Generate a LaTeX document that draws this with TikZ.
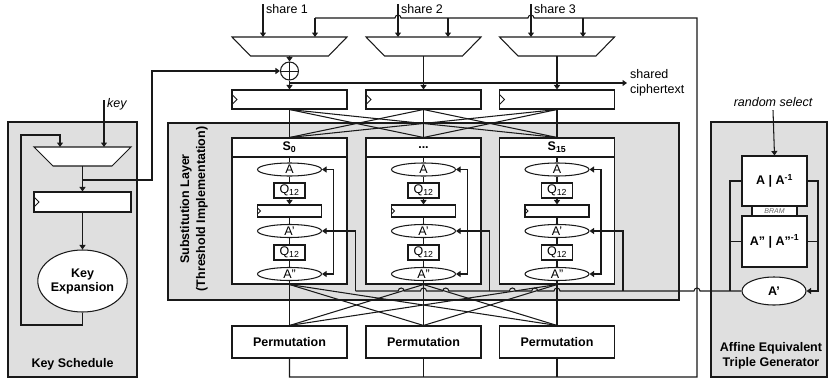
\documentclass[tikz,border=0pt]{standalone}
\usepackage{fontspec}
\setmainfont{Liberation Sans}
\usetikzlibrary{arrows.meta,shapes.geometric,calc}
\newcommand{\myq}{{\char39}}
\newcommand{\mydq}{{\char34}}
\definecolor{panel}{RGB}{223,223,223}
\definecolor{ink}{RGB}{25,25,25}
\begin{document}
\begin{tikzpicture}[x=1pt,y=-1pt,
  every node/.style={font=\fontsize{12.5}{14}\selectfont},
  ln/.style={draw=ink,line width=1.05pt},
  arr/.style={ln,-{Triangle[length=4.5pt,width=6pt]}},
  arrboth/.style={ln,{Triangle[length=4.5pt,width=6pt]}-{Triangle[length=4.5pt,width=6pt]}},
  wbox/.style={draw=ink,line width=1.05pt,fill=white,rectangle,inner sep=0pt},
  regbox/.style={wbox,path picture={\draw[ink,line width=0.9pt] ([yshift=5pt]path picture bounding box.west) -- ++(5pt,-5pt) -- ++(-5pt,-5pt);}},
  sreg/.style={wbox,path picture={\draw[ink,line width=0.8pt] ([yshift=3pt]path picture bounding box.west) -- ++(3pt,-3pt) -- ++(-3pt,-3pt);}},
  ell/.style={ellipse,draw=ink,line width=1.05pt,fill=white,inner sep=0pt},
  bf/.style={font=\fontsize{12.5}{14}\selectfont\bfseries},
  itl/.style={font=\fontsize{12.5}{14}\selectfont\itshape},
  panelbox/.style={draw=ink,line width=1.05pt,fill=panel,rectangle,inner sep=0pt}
]
\useasboundingbox (0,0) rectangle (830,380);

% panels
\node[panelbox,minimum width=129,minimum height=255] (ks) at (72.5,249.5) {};
\node[panelbox,minimum width=511,minimum height=177] (sl) at (423.5,211.5) {};
\node[panelbox,minimum width=116,minimum height=255] (ag) at (769,249.5) {};

\node[bf] (kslbl) at (72.5,364) {Key Schedule};
\node[bf,align=center,font=\fontsize{12.5}{15}\selectfont\bfseries] (aglbl) at (771,356) {Affine Equivalent\\Triple Generator};
\node[bf,align=center,rotate=90,font=\fontsize{12.5}{16}\selectfont\bfseries] (sllbl) at (194,209) {Substitution Layer\\(Threshold Implementation)};

% top labels
\node[anchor=west,inner sep=0pt] (sh1) at (266,9) {share 1};
\node[anchor=west,inner sep=0pt] (sh2) at (401,9) {share 2};
\node[anchor=west,inner sep=0pt] (sh3) at (534,9) {share 3};
\node[anchor=west,align=left,inner sep=0pt,font=\fontsize{12.5}{15}\selectfont] (ctlbl) at (630,83) {shared\\ciphertext};
\node[itl,anchor=west,inner sep=0pt] (keylbl) at (107,104) {key};
\node[itl] (rslbl) at (773,102) {random select};

% top muxes
\foreach \c/\n in {289.5/1,423.5/2,557/3}{
  \draw[ln,fill=white] (\c-57.5,37) -- (\c+57.5,37) -- (\c+39,56) -- (\c-39,56) -- cycle;
  \coordinate (mt\n) at (\c,37);
  \coordinate (mb\n) at (\c,56);
}

% XOR
\node[circle,draw=ink,line width=1.05pt,fill=white,minimum size=18,inner sep=0pt,
  path picture={\draw[ink,line width=0.9pt] (path picture bounding box.north)--(path picture bounding box.south) (path picture bounding box.west)--(path picture bounding box.east);}] (xor) at (289.5,71) {};

% registers
\node[regbox,minimum width=115,minimum height=19] (r1) at (289.5,99.5) {};
\node[regbox,minimum width=115,minimum height=19] (r2) at (423.5,99.5) {};
\node[regbox,minimum width=115,minimum height=19] (r3) at (557,99.5) {};

% S-boxes
\foreach \c/\n/\t in {289.5/1/{S\textsubscript{0}},423.5/2/{...},557/3/{S\textsubscript{15}}}{
  \node[wbox,minimum width=115,minimum height=127] (b\n) at (\c,220.5) {};
  \node[wbox,bf,minimum width=115,minimum height=19] (h\n) at (\c,147.5) {\t};
  \node[ell,minimum width=64,minimum height=13] (a\n) at (\c,169.5) {A};
  \node[wbox,minimum width=31,minimum height=15] (q\n) at (\c,190.5) {Q\textsubscript{12}};
  \node[sreg,minimum width=64,minimum height=12] (sr\n) at (\c,211) {};
  \node[ell,minimum width=64,minimum height=13] (aa\n) at (\c,231) {A\myq};
  \node[wbox,minimum width=31,minimum height=15] (qq\n) at (\c,252.5) {Q\textsubscript{12}};
  \node[ell,minimum width=64,minimum height=13] (aaa\n) at (\c,274) {A\mydq};
  \draw[ln] (h\n.south) -- (a\n.north);
  \draw[ln] (a\n.south) -- (q\n.north);
  \draw[arr] (q\n.south) -- (sr\n.north);
  \draw[ln] (sr\n.south) -- (aa\n.north);
  \draw[ln] (aa\n.south) -- (qq\n.north);
  \draw[ln] (qq\n.south) -- (aaa\n.north);
  \draw[ln] (aaa\n.south) -- (b\n.south);
  \coordinate (lt\n) at (\c+44,169.5);
  \coordinate (lb\n) at (\c+44,274);
  \draw[arrboth] (a\n.east) -- (lt\n) -- (lb\n) -- (aaa\n.east);
  \coordinate (f\n) at (\c+66,291);
  \draw[arr] (f\n) -- (f\n |- aa\n) -- (aa\n.east);
}

% permutations
\node[wbox,bf,minimum width=115,minimum height=32] (p1) at (289.5,342) {Permutation};
\node[wbox,bf,minimum width=115,minimum height=32] (p2) at (423.5,342) {Permutation};
\node[wbox,bf,minimum width=115,minimum height=32] (p3) at (557,342) {Permutation};

% bipartite connections
\foreach \i in {1,2,3}{\foreach \j in {1,2,3}{
  \draw[ln] (r\i.south) -- (h\j.north);
  \draw[ln] (b\j.south) -- (p\i.north);
}}

% key schedule
\draw[ln,fill=white] (34,147) -- (131,147) -- (112,166) -- (53,166) -- cycle;
\coordinate (kmt) at (82.5,147);
\coordinate (kmb) at (82.5,166);
\node[regbox,minimum width=97,minimum height=20] (kr) at (82.5,202) {};
\node[ell,bf,align=center,minimum width=88,minimum height=62] (ke) at (82.5,281) {Key\\Expansion};
\coordinate (kin) at (104,100);
\draw[arr] (kin) -- (kin |- kmt);
\draw[arr] (kmb) -- (kr.north);
\draw[arr] (kr.south) -- (ke.north);
\coordinate (kf1) at (21,325);
\coordinate (kf2) at (21,135);
\coordinate (kf3) at (60,135);
\draw[arr] (ke.south) -- (ke.south |- kf1) -- (kf1) -- (kf2) -- (kf3) -- (kf3 |- kmt);
\coordinate (kb) at (82.5,180);
\coordinate (kc) at (152,180);
\draw[arr] (kb) -- (kc) -- (kc |- xor) -- (xor.west);

% shares
\coordinate (s1) at (263,4);
\coordinate (s2) at (398,4);
\coordinate (s3) at (531,4);
\draw[arr] (s1) -- (s1 |- mt1);
\draw[arr] (s2) -- (s2 |- mt2);
\draw[arr] (s3) -- (s3 |- mt3);

% mux outputs
\draw[arr] (mb1) -- (xor.north);
\draw[arr] (xor.south) -- (r1.north);
\draw[arr] (mb2) -- (r2.north);
\draw[arr] (mb3) -- (r3.north);
\coordinate (ct0) at (289.5,83);
\coordinate (ct1) at (627,83);
\draw[arr] (ct0) -- (ct1);

% feedback from permutations
\coordinate (fbL) at (315,18);
\coordinate (fb2) at (448,18);
\coordinate (fb3) at (583,18);
\coordinate (fbTR) at (697,18);
\coordinate (fbBR) at (697,377);
\draw[ln] (p1.south) -- (p1.south |- fbBR) -- (fbBR) -- (fbTR) -- (534,18)
  arc[start angle=0,end angle=180,radius=3pt] -- (401,18)
  arc[start angle=0,end angle=180,radius=3pt] -- (fbL);
\draw[ln] (p2.south) -- (p2.south |- fbBR);
\draw[ln] (p3.south) -- (p3.south |- fbBR);
\draw[arr] (fbL) -- (fbL |- mt1);
\draw[arr] (fb2) -- (fb2 |- mt2);
\draw[arr] (fb3) -- (fb3 |- mt3);

% generator
\node[wbox,bf,minimum width=65,minimum height=50] (gaa) at (774.5,181) {A | A\textsuperscript{-1}};
\node[wbox,minimum width=45,minimum height=10,font=\fontsize{7}{8}\selectfont\itshape,text=black!60] (bram) at (774.5,211) {BRAM};
\node[wbox,bf,minimum width=65,minimum height=51] (gbb) at (774.5,241.5) {A\mydq\ | A\mydq\textsuperscript{-1}};
\node[ell,bf,minimum width=64,minimum height=28] (ga) at (774,291) {A\myq};
\draw[arr] (rslbl.south) -- (gaa.north);
\coordinate (gl) at (730,181);
\coordinate (gr) at (818,181);
\draw[ln] (gaa.west) -- (gl) -- (gl |- ga);
\draw[ln] (gbb.west) -- (gbb.west -| gl);
\draw[arr] (gaa.east) -- (gr) -- (gr |- ga) -- (ga.east);
\draw[ln] (gbb.east) -- (gbb.east -| gr);

% bus to S-boxes with hops
\draw[ln] (ga.west) -- (700,291)
  arc[start angle=0,end angle=180,radius=3pt] -- (560,291)
  arc[start angle=0,end angle=180,radius=3pt] -- (537.75,291)
  arc[start angle=0,end angle=180,radius=3pt] -- (515.4,291)
  arc[start angle=0,end angle=180,radius=3pt] -- (448.75,291)
  arc[start angle=0,end angle=180,radius=3pt] -- (426.5,291)
  arc[start angle=0,end angle=180,radius=3pt] -- (404.2,291)
  arc[start angle=0,end angle=180,radius=3pt] -- (f1);
\end{tikzpicture}
\end{document}
